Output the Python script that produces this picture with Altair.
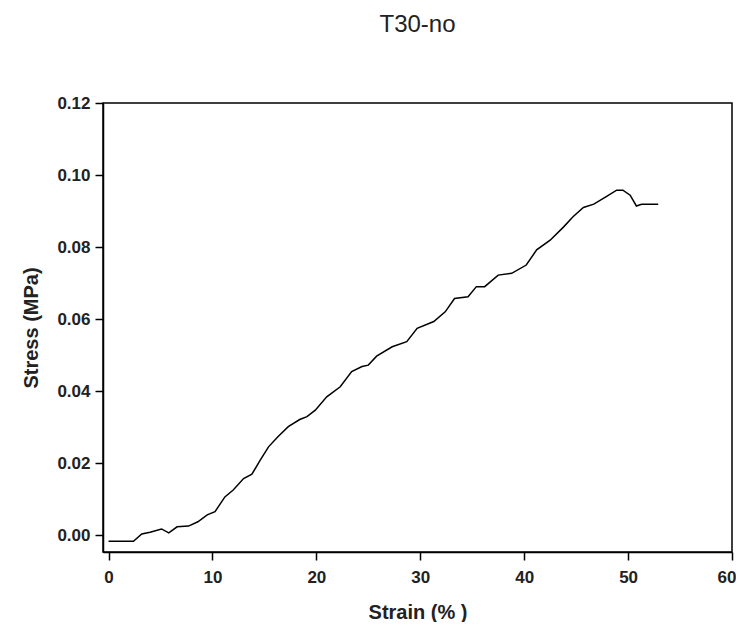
import altair as alt
import pandas as pd

strain = [0, 2.4, 3.2, 4.0, 5.1, 5.8, 6.6, 7.7, 8.6, 9.5, 10.25, 11.2, 12.0, 13.0,
          13.8, 14.6, 15.4, 16.3, 17.3, 18.4, 19.1, 19.9, 21.0, 22.3, 23.4, 24.4,
          25.0, 25.8, 27.3, 28.7, 29.7, 31.3, 32.4, 33.3, 34.6, 35.4, 36.2, 37.5,
          38.8, 40.2, 41.2, 42.5, 43.8, 44.7, 45.7, 46.7, 47.9, 48.9, 49.5, 50.2,
          50.8, 51.3, 52.9]
stress = [-0.0017, -0.0017, 0.0003, 0.0008, 0.0017, 0.0006, 0.0023, 0.0025, 0.0037,
          0.0056, 0.0065, 0.0106, 0.0125, 0.0157, 0.0169, 0.0208, 0.0245, 0.0273,
          0.0301, 0.0321, 0.0329, 0.0347, 0.0384, 0.0412, 0.0454, 0.0468, 0.0472,
          0.0497, 0.0523, 0.0537, 0.0574, 0.0593, 0.0620, 0.0657, 0.0662, 0.0690,
          0.0690, 0.0722, 0.0727, 0.0750, 0.0792, 0.0819, 0.0856, 0.0884, 0.0910,
          0.0919, 0.0940, 0.0958, 0.0958, 0.0944, 0.0914, 0.0919, 0.0919]
x_ticks = [0, 10, 20, 30, 40, 50, 60]
y_ticks = [0.00, 0.02, 0.04, 0.06, 0.08, 0.10, 0.12]

df = pd.DataFrame({"strain": strain, "stress": stress, "order": list(range(len(strain)))})

font = "Liberation Sans"

chart = alt.Chart(df).mark_line(color="black", strokeWidth=1.5).encode(
    x=alt.X("strain:Q", title="Strain (% )",
            scale=alt.Scale(domain=[-0.53, 60], nice=False, zero=False),
            axis=alt.Axis(values=x_ticks, format="d", grid=False,
                          labelFlush=True, labelFlushOffset=4)),
    y=alt.Y("stress:Q", title="Stress (MPa)",
            scale=alt.Scale(domain=[-0.0047, 0.12], nice=False, zero=False),
            axis=alt.Axis(values=y_ticks, format=".2f", grid=False)),
    order="order:Q",
).properties(
    width=629, height=449,
    title=alt.TitleParams("T30-no", fontSize=24, fontWeight="normal", font=font,
                          color="#222222", anchor="middle", offset=57),
    autosize=alt.AutoSizeParams(type="none"),
    padding={"left": 95, "top": 95, "right": 4, "bottom": 70},
).configure_view(
    stroke="black", strokeWidth=1.5
).configure_axis(
    domainColor="black", domainWidth=1.5, tickColor="black", tickWidth=1.5,
    tickSize=8, labelFont=font, labelFontSize=17, labelFontWeight="bold",
    labelColor="#222222", titleFont=font, titleFontSize=20, titleFontWeight="bold",
    titleColor="#222222"
).configure_axisX(
    labelPadding=9, titlePadding=17
).configure_axisY(
    labelPadding=5, titlePadding=15
)

chart.save("out.html", embed_options={"renderer": "svg", "actions": False})
